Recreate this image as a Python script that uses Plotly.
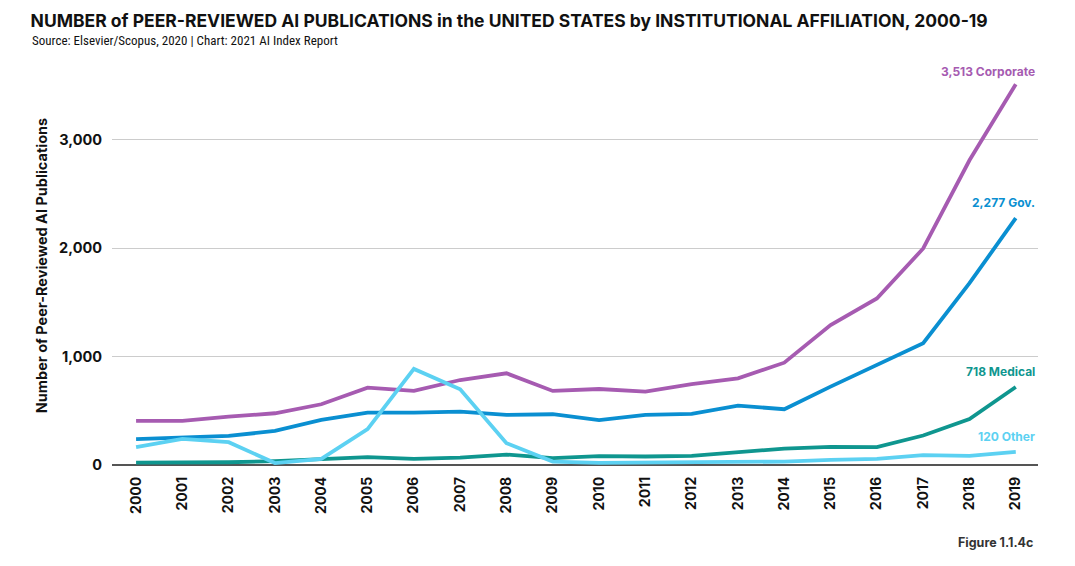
import plotly.graph_objects as go

years = list(range(2000, 2020))
corporate = [406, 406, 445, 476, 559, 712, 682, 783, 845, 682, 700, 676, 744, 799, 943, 1290, 1536, 1997, 2811, 3513]
government = [237, 255, 267, 313, 415, 482, 482, 491, 461, 467, 412, 461, 470, 547, 513, 722, 922, 1122, 1677, 2277]
medical = [21, 21, 24, 34, 52, 71, 55, 67, 95, 62, 80, 77, 83, 117, 150, 166, 163, 271, 422, 718]
other = [163, 240, 209, 16, 55, 329, 885, 698, 200, 30, 18, 22, 24, 22, 30, 46, 55, 89, 83, 120]

series_names = ["Corporate", "Gov.", "Medical", "Other"]
series_values = [corporate, government, medical, other]
series_colors = ["#A65BB1", "#0A8FD1", "#0F968F", "#5CD1F2"]
label_shifts = [3, 6, 6, 6]
y_ticks = [0, 1000, 2000, 3000]
y_tick_labels = ["0", "1,000", "2,000", "3,000"]

font = "Inter, Roboto, 'Open Sans', sans-serif"

fig = go.Figure()
for name, vals, col, ys in zip(series_names, series_values, series_colors, label_shifts):
    fig.add_trace(go.Scatter(x=years, y=vals, mode="lines", name=name,
                             line=dict(color=col, width=3.8), hoverinfo="x+y+name"))
    fig.add_annotation(x=years[-1], y=vals[-1], text=f"<b>{vals[-1]:,} {name}</b>",
                       showarrow=False, xanchor="right", yanchor="bottom",
                       xshift=21, yshift=ys, font=dict(family=font, size=12, color=col))

fig.update_layout(
    width=1075, height=566,
    margin=dict(l=104, r=45, t=55.5, b=106.8, autoexpand=False),
    paper_bgcolor="white", plot_bgcolor="white",
    showlegend=False,
    font=dict(family=font, color="#1a1a1a"),
    xaxis=dict(range=[1999.48, 2019.48], tickmode="array", tickvals=years,
               ticktext=[f"<b>{y}</b>" for y in years], tickangle=-90,
               tickfont=dict(size=14, color="#111"), showgrid=False,
               zeroline=False, showline=False, ticks="", fixedrange=True,
               automargin=False, ticklabelstandoff=6),
    yaxis=dict(range=[-20, 3700], tickmode="array", tickvals=y_ticks,
               ticktext=[f"<b>{t}</b>" for t in y_tick_labels],
               tickfont=dict(size=14.5, color="#111"), showgrid=True,
               gridcolor="#cccccc", gridwidth=1.2, zeroline=True,
               zerolinecolor="#555555", zerolinewidth=2.2, ticks="",
               ticklabelstandoff=9, automargin=False,
               title=dict(text="<b>Number of Peer-Reviewed AI Publications</b>",
                          font=dict(size=14.5, color="#111"), standoff=8)),
    title=dict(text="<b>NUMBER of PEER-REVIEWED AI PUBLICATIONS in the UNITED STATES by INSTITUTIONAL AFFILIATION, 2000-19</b>",
               x=0.021, xanchor="left", y=0.9885, yanchor="top",
               font=dict(family=font, size=17.5, color="#111")),
)
fig.add_annotation(xref="paper", yref="paper", x=-0.0886, y=1.058,
                   xanchor="left", yanchor="middle", showarrow=False,
                   text="Source: Elsevier/Scopus, 2020 | Chart: 2021 AI Index Report",
                   font=dict(family="'Liberation Sans Narrow', 'Arial Narrow', 'Roboto Condensed', sans-serif", size=13, color="#111"))
fig.add_annotation(xref="paper", yref="paper", x=0.9968, y=-0.188,
                   xanchor="right", yanchor="middle", showarrow=False,
                   text="<b>Figure 1.1.4c</b>",
                   font=dict(family=font, size=12.5, color="#333"))

fig.write_html("out.html")
